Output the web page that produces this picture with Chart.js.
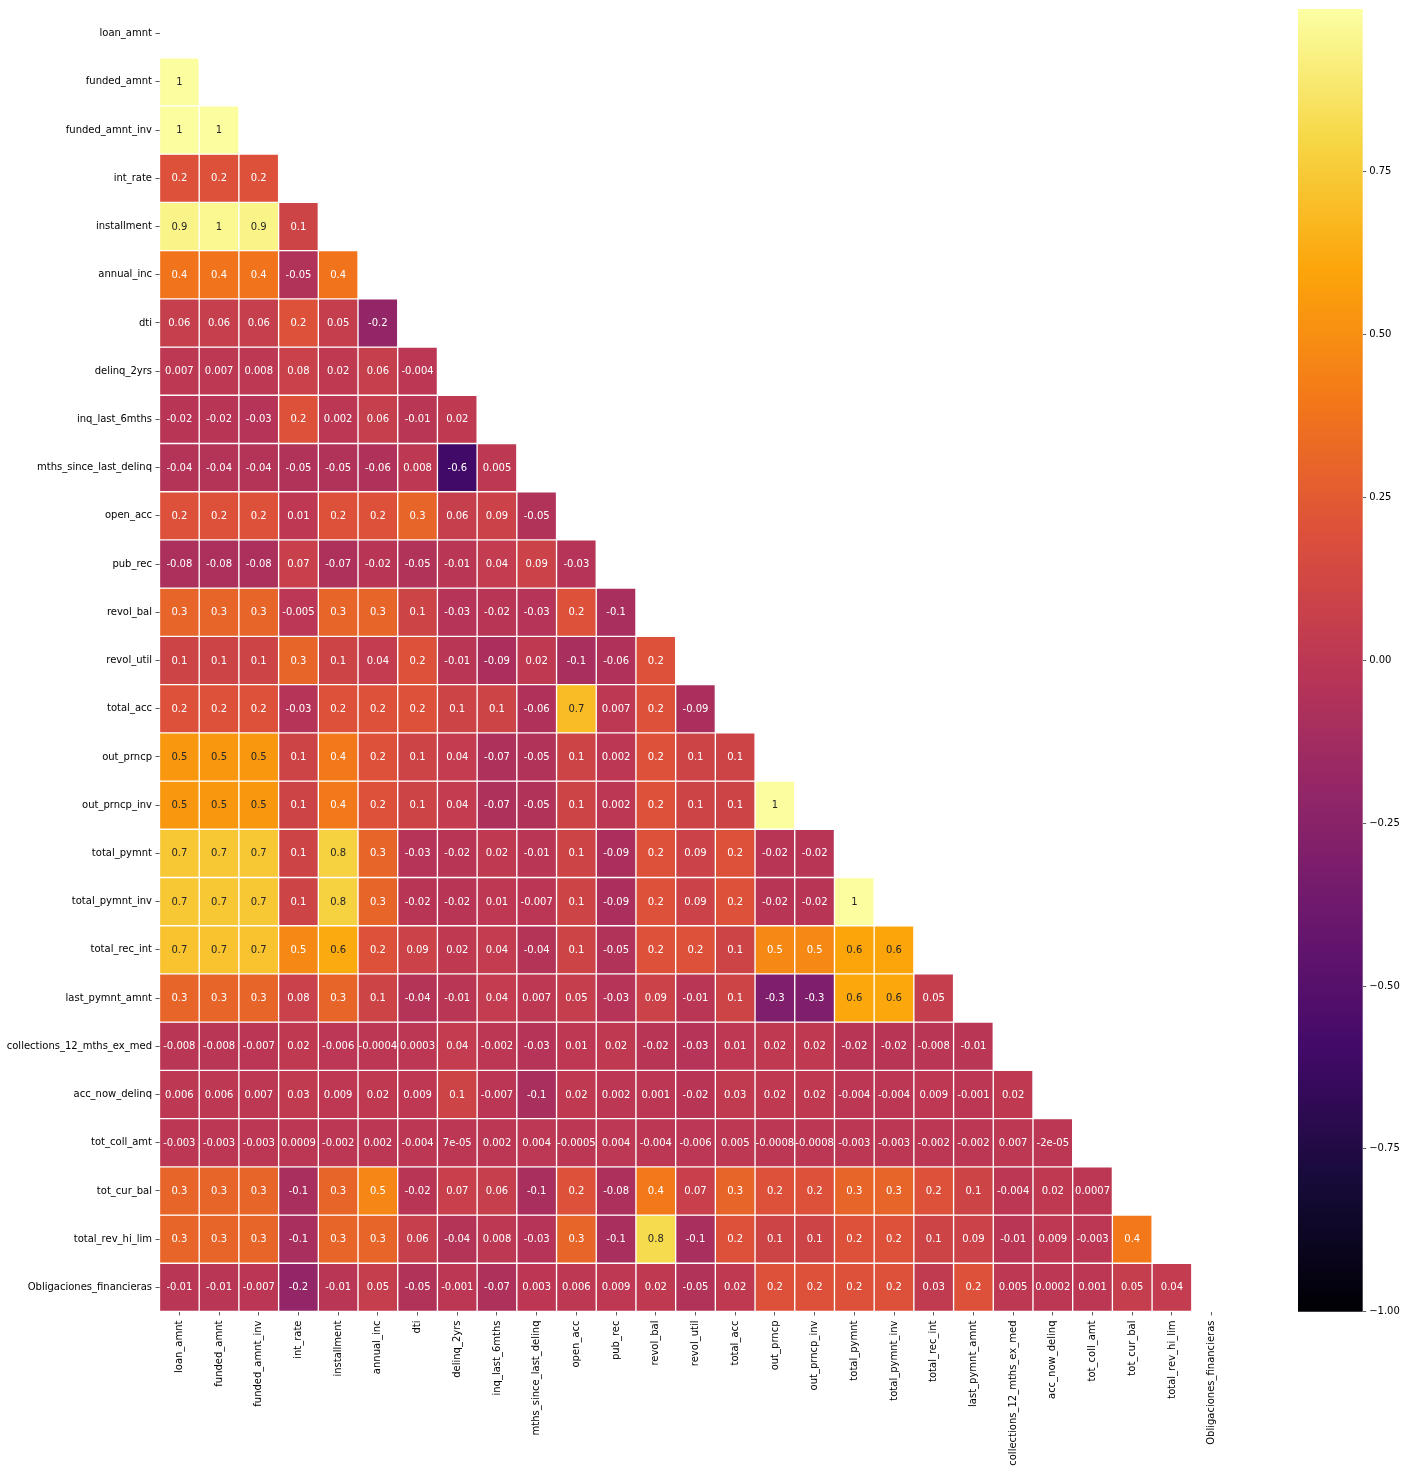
<!DOCTYPE html>
<html>
<head>
<meta charset="utf-8">
<script src="https://cdn.jsdelivr.net/npm/chart.js@4.4.1/dist/chart.umd.min.js"></script>
<style>
  html, body { margin: 0; padding: 0; background: #fff; }
  #main { position: absolute; left: 0; top: 0; width: 1245px; height: 1471px; }
  #cbar { position: absolute; left: 1290px; top: 0; width: 117px; height: 1471px; }
</style>
</head>
<body>
<div id="main"><canvas id="heat"></canvas></div>
<div id="cbar"><canvas id="bar"></canvas></div>
<script>
// ---- categories ----
const variables = [
  "loan_amnt", "funded_amnt", "funded_amnt_inv", "int_rate", "installment",
  "annual_inc", "dti", "delinq_2yrs", "inq_last_6mths", "mths_since_last_delinq",
  "open_acc", "pub_rec", "revol_bal", "revol_util", "total_acc",
  "out_prncp", "out_prncp_inv", "total_pymnt", "total_pymnt_inv", "total_rec_int",
  "last_pymnt_amnt", "collections_12_mths_ex_med", "acc_now_delinq", "tot_coll_amt",
  "tot_cur_bal", "total_rev_hi_lim", "Obligaciones_financieras"
];

// ---- lower-triangle correlation values, one array per row (row 0 is fully masked) ----
const r_loan_amnt = [];
const r_funded_amnt = [0.99];
const r_funded_amnt_inv = [0.99, 0.99];
const r_int_rate = [0.2, 0.2, 0.2];
const r_installment = [0.94, 0.96, 0.94, 0.1];
const r_annual_inc = [0.38, 0.38, 0.38, -0.05, 0.38];
const r_dti = [0.06, 0.06, 0.06, 0.2, 0.05, -0.2];
const r_delinq_2yrs = [0.007, 0.007, 0.008, 0.08, 0.02, 0.06, -0.004];
const r_inq_last_6mths = [-0.02, -0.02, -0.03, 0.2, 0.002, 0.06, -0.01, 0.02];
const r_mths_since_last_delinq = [-0.04, -0.04, -0.04, -0.05, -0.05, -0.06, 0.008, -0.6, 0.005];
const r_open_acc = [0.2, 0.2, 0.2, 0.01, 0.2, 0.2, 0.3, 0.06, 0.09, -0.05];
const r_pub_rec = [-0.08, -0.08, -0.08, 0.07, -0.07, -0.02, -0.05, -0.01, 0.04, 0.09, -0.03];
const r_revol_bal = [0.3, 0.3, 0.3, -0.005, 0.3, 0.3, 0.1, -0.03, -0.02, -0.03, 0.2, -0.1];
const r_revol_util = [0.1, 0.1, 0.1, 0.3, 0.1, 0.04, 0.2, -0.01, -0.09, 0.02, -0.1, -0.06, 0.2];
const r_total_acc = [0.2, 0.2, 0.2, -0.03, 0.2, 0.2, 0.2, 0.1, 0.1, -0.06, 0.69, 0.007, 0.2, -0.09];
const r_out_prncp = [0.54, 0.54, 0.54, 0.1, 0.4, 0.2, 0.1, 0.04, -0.07, -0.05, 0.1, 0.002, 0.2, 0.1, 0.1];
const r_out_prncp_inv = [0.54, 0.54, 0.54, 0.1, 0.4, 0.2, 0.1, 0.04, -0.07, -0.05, 0.1, 0.002, 0.2, 0.1, 0.1, 0.99];
const r_total_pymnt = [0.74, 0.74, 0.74, 0.1, 0.78, 0.3, -0.03, -0.02, 0.02, -0.01, 0.1, -0.09, 0.2, 0.09, 0.2, -0.02, -0.02];
const r_total_pymnt_inv = [0.74, 0.74, 0.74, 0.1, 0.78, 0.3, -0.02, -0.02, 0.01, -0.007, 0.1, -0.09, 0.2, 0.09, 0.2, -0.02, -0.02, 0.99];
const r_total_rec_int = [0.72, 0.72, 0.72, 0.47, 0.62, 0.2, 0.09, 0.02, 0.04, -0.04, 0.1, -0.05, 0.2, 0.2, 0.1, 0.47, 0.47, 0.6, 0.6];
const r_last_pymnt_amnt = [0.3, 0.3, 0.3, 0.08, 0.3, 0.1, -0.04, -0.01, 0.04, 0.007, 0.05, -0.03, 0.09, -0.01, 0.1, -0.3, -0.3, 0.61, 0.61, 0.05];
const r_collections_12 = [-0.008, -0.008, -0.007, 0.02, -0.006, -0.0004, 0.0003, 0.04, -0.002, -0.03, 0.01, 0.02, -0.02, -0.03, 0.01, 0.02, 0.02, -0.02, -0.02, -0.008, -0.01];
const r_acc_now_delinq = [0.006, 0.006, 0.007, 0.03, 0.009, 0.02, 0.009, 0.1, -0.007, -0.1, 0.02, 0.002, 0.001, -0.02, 0.03, 0.02, 0.02, -0.004, -0.004, 0.009, -0.001, 0.02];
const r_tot_coll_amt = [-0.003, -0.003, -0.003, 0.0009, -0.002, 0.002, -0.004, 7e-05, 0.002, 0.004, -0.0005, 0.004, -0.004, -0.006, 0.005, -0.0008, -0.0008, -0.003, -0.003, -0.002, -0.002, 0.007, -2e-05];
const r_tot_cur_bal = [0.3, 0.3, 0.3, -0.1, 0.3, 0.46, -0.02, 0.07, 0.06, -0.1, 0.2, -0.08, 0.4, 0.07, 0.3, 0.2, 0.2, 0.3, 0.3, 0.2, 0.1, -0.004, 0.02, 0.0007];
const r_total_rev_hi_lim = [0.3, 0.3, 0.3, -0.1, 0.3, 0.3, 0.06, -0.04, 0.008, -0.03, 0.3, -0.1, 0.82, -0.1, 0.2, 0.1, 0.1, 0.2, 0.2, 0.1, 0.09, -0.01, 0.009, -0.003, 0.4];
const r_obligaciones = [-0.01, -0.01, -0.007, -0.2, -0.01, 0.05, -0.05, -0.001, -0.07, 0.003, 0.006, 0.009, 0.02, -0.05, 0.02, 0.2, 0.2, 0.2, 0.2, 0.03, 0.2, 0.005, 0.0002, 0.001, 0.05, 0.04];

const corrRows = [
  r_loan_amnt, r_funded_amnt, r_funded_amnt_inv, r_int_rate, r_installment,
  r_annual_inc, r_dti, r_delinq_2yrs, r_inq_last_6mths, r_mths_since_last_delinq,
  r_open_acc, r_pub_rec, r_revol_bal, r_revol_util, r_total_acc,
  r_out_prncp, r_out_prncp_inv, r_total_pymnt, r_total_pymnt_inv, r_total_rec_int,
  r_last_pymnt_amnt, r_collections_12, r_acc_now_delinq, r_tot_coll_amt,
  r_tot_cur_bal, r_total_rev_hi_lim, r_obligaciones
];

// ---- colour scale ----
const vmin = -1, vmax = 1;
const colorbarTicks = [-1, -0.75, -0.5, -0.25, 0, 0.25, 0.5, 0.75];
const INFERNO = ["#000004", "#160b39", "#420a68", "#6a176e", "#932667", "#bc3754",
                 "#dd513a", "#f37819", "#fca50a", "#f6d746", "#fcffa4"];

function hexToRgb(h) { return [1, 3, 5].map(i => parseInt(h.substr(i, 2), 16)); }
const INF_RGB = INFERNO.map(hexToRgb);
function inferno(t) {
  t = Math.max(0, Math.min(1, t));
  const n = INF_RGB.length - 1;
  const p = t * n, i = Math.min(n - 1, Math.floor(p)), f = p - i;
  const a = INF_RGB[i], b = INF_RGB[i + 1];
  return [0, 1, 2].map(k => a[k] + (b[k] - a[k]) * f);
}
function colorFor(v) {
  const c = inferno((v - vmin) / (vmax - vmin));
  return `rgb(${c[0].toFixed(1)},${c[1].toFixed(1)},${c[2].toFixed(1)})`;
}
function luminance(v) {
  const c = inferno((v - vmin) / (vmax - vmin)).map(x => {
    x = x / 255;
    return x <= 0.03928 ? x / 12.92 : Math.pow((x + 0.055) / 1.055, 2.4);
  });
  return 0.2126 * c[0] + 0.7152 * c[1] + 0.0722 * c[2];
}
function fmt1g(v) {
  if (v === 0) return "0";
  const s = v.toExponential(0);
  const parts = s.split("e");
  const m = parts[0], exp = parseInt(parts[1], 10);
  if (exp < -4 || exp >= 1) {
    return m + "e" + (exp < 0 ? "-" : "+") + String(Math.abs(exp)).padStart(2, "0");
  }
  return (parseFloat(m) * Math.pow(10, exp)).toFixed(Math.max(0, -exp));
}

// ---- datasets: one floating-bar dataset per row ----
const datasets = corrRows.map((row, r) => {
  const data = variables.map((_, c) => (c < row.length ? [r - 0.5, r + 0.5] : null));
  const colors = variables.map((_, c) => (c < row.length ? colorFor(row[c]) : "rgba(0,0,0,0)"));
  return {
    label: variables[r],
    data: data,
    corr: row,
    backgroundColor: colors,
    borderColor: "#ffffff",
    borderWidth: 1,
    borderSkipped: false,
    grouped: false,
    barPercentage: 1,
    categoryPercentage: 1
  };
});

const FONT = "'DejaVu Sans', 'Liberation Sans', sans-serif";

const annotatePlugin = {
  id: "annotate",
  afterDatasetsDraw(chart) {
    const ctx = chart.ctx;
    ctx.save();
    ctx.font = "10px " + FONT;
    ctx.textAlign = "center";
    ctx.textBaseline = "middle";
    chart.data.datasets.forEach((ds, i) => {
      const meta = chart.getDatasetMeta(i);
      meta.data.forEach((el, c) => {
        if (c >= ds.corr.length) return;
        const v = ds.corr[c];
        const pt = el.getCenterPoint();
        ctx.fillStyle = luminance(v) > 0.408 ? "#262626" : "#ffffff";
        ctx.fillText(fmt1g(v), pt.x, pt.y + 0.5);
      });
    });
    ctx.restore();
  }
};

new Chart(document.getElementById("heat"), {
  type: "bar",
  data: { labels: variables, datasets: datasets },
  plugins: [annotatePlugin],
  options: {
    responsive: true,
    maintainAspectRatio: false,
    animation: false,
    devicePixelRatio: 1,
    layout: { padding: { top: 6.5, right: 13.5, bottom: 0, left: 0 } },
    plugins: { legend: { display: false }, tooltip: { enabled: false } },
    scales: {
      x: {
        type: "category",
        offset: true,
        grid: { display: true, drawOnChartArea: false, offset: false, tickLength: 4, tickColor: "#333", tickWidth: 0.8 },
        border: { display: false },
        ticks: {
          autoSkip: false, maxRotation: 90, minRotation: 90, padding: 5,
          color: "#000", font: { family: FONT, size: 10 }
        },
        afterFit: (scale) => { scale.height = 159.5; }
      },
      y: {
        type: "linear",
        reverse: true,
        min: -0.5,
        max: variables.length - 0.5,
        grid: { display: true, drawOnChartArea: false, tickLength: 4, tickColor: "#333", tickWidth: 0.8 },
        border: { display: false },
        afterBuildTicks: (scale) => { scale.ticks = variables.map((_, i) => ({ value: i })); },
        ticks: {
          autoSkip: false, padding: 3.5, color: "#000", font: { family: FONT, size: 10 },
          callback: (v) => variables[v]
        },
        afterFit: (scale) => { scale.width = 159.5; }
      }
    }
  }
});

// ---- colour bar ----
new Chart(document.getElementById("bar"), {
  type: "bar",
  data: {
    labels: ["cbar"],
    datasets: [{
      data: [[vmin, vmax]],
      borderWidth: 0,
      barPercentage: 1,
      categoryPercentage: 1,
      backgroundColor: (ctx) => {
        const chart = ctx.chart;
        if (!chart.chartArea) return null;
        const ys = chart.scales.y;
        const g = chart.ctx.createLinearGradient(0, ys.getPixelForValue(vmin), 0, ys.getPixelForValue(vmax));
        for (let i = 0; i <= 100; i++) {
          const c = inferno(i / 100);
          g.addColorStop(i / 100, `rgb(${c[0].toFixed(1)},${c[1].toFixed(1)},${c[2].toFixed(1)})`);
        }
        return g;
      }
    }]
  },
  options: {
    responsive: true,
    maintainAspectRatio: false,
    animation: false,
    devicePixelRatio: 1,
    layout: { padding: { top: 6.7, right: 0, bottom: 159.3, left: 8 } },
    plugins: { legend: { display: false }, tooltip: { enabled: false } },
    scales: {
      x: { display: false },
      y: {
        position: "right",
        min: vmin,
        max: vmax,
        grid: { display: true, drawOnChartArea: false, tickLength: 3.5, tickColor: "#333", tickWidth: 0.8 },
        border: { display: false },
        afterBuildTicks: (scale) => { scale.ticks = colorbarTicks.map(v => ({ value: v })); },
        ticks: {
          padding: 3, color: "#000", font: { family: FONT, size: 10 },
          callback: (v) => v.toFixed(2).replace("-", "\u2212")
        },
        afterFit: (scale) => { scale.width = 44.3; }
      }
    }
  }
});
</script>
</body>
</html>
